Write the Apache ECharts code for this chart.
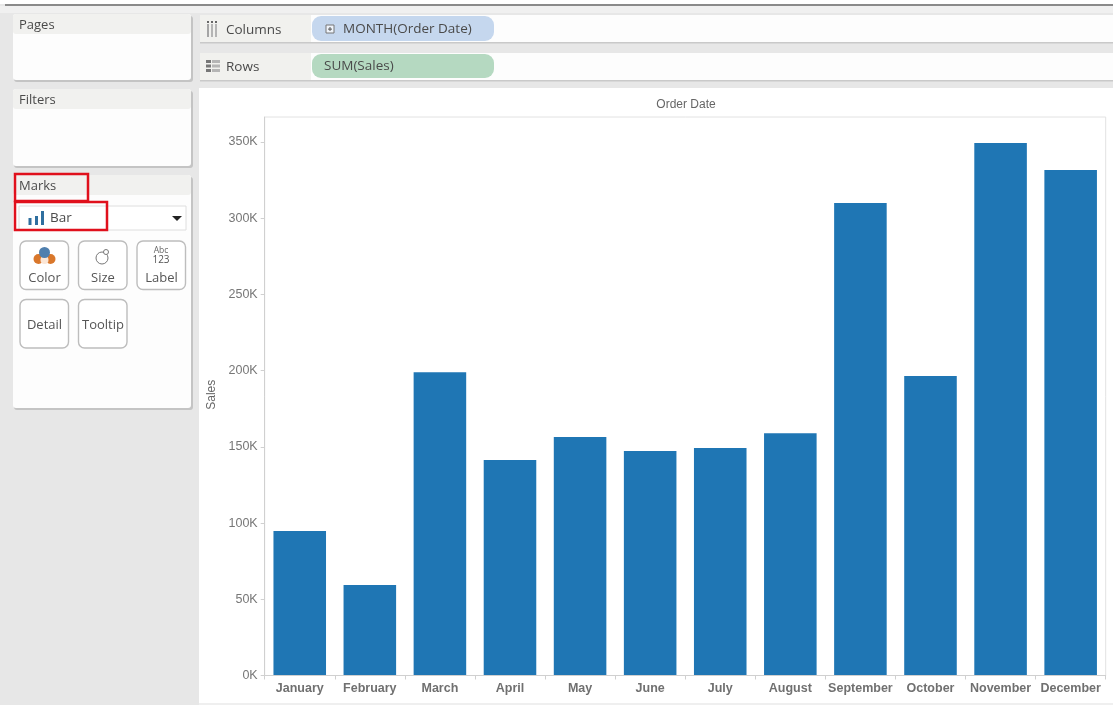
<!DOCTYPE html>
<html><head><meta charset="utf-8">
<style>html,body{margin:0;padding:0;background:#fff}#c{width:1113px;height:705px}</style>
<script src="https://cdn.jsdelivr.net/npm/echarts@6/dist/echarts.min.js"></script>
</head><body><div id="c"></div>
<script>
const months = ['January','February','March','April','May','June','July','August','September','October','November','December'];
const sales = [94800,59400,199000,141400,156500,147300,149300,159000,310000,196500,349300,331600];
const axisMax = 366400;
const axisStep = 50000;
const tickValues = [0,50000,100000,150000,200000,250000,300000,350000];

const F = '"Open Sans","Noto Sans",sans-serif';
const txt = (x,y,s,o={}) => ({type:'text',silent:true,z:o.z??5,style:{x,y,text:s,fill:o.fill||'#4a4a4a',font:(o.weight||'normal')+' '+(o.size||13)+'px '+(o.fam||F),textAlign:o.align||'left',textVerticalAlign:'middle'}});
const rect = (x,y,w,h,fill,o={}) => ({type:'rect',silent:true,z:o.z??2,shape:{x,y,width:w,height:h,r:o.r||0},style:{fill,stroke:o.stroke||null,lineWidth:o.lw||1}});
const circ = (cx,cy,r,fill,o={}) => ({type:'circle',silent:true,z:o.z??4,shape:{cx,cy,r},style:{fill,stroke:o.stroke||null,lineWidth:o.lw||1}});

const panel = (y,h,title) => [
  rect(14,y+2,179,h,'#c4c4c4',{r:3}),
  rect(13,y,178,h,'#fdfdfd',{r:3}),
  rect(13,y,178,20,'#f1f1ef',{r:3}),
  txt(19,y+11.5,title,{size:13})
];
const card = (x,y,label,ly) => [
  rect(x,y,48.5,48.5,'#fff',{r:6,stroke:'#bdbdbd',lw:1.4,z:3}),
  txt(x+24.5,ly,label,{size:13,align:'center',fill:'#555'})
];
const gfx = [
  rect(0,0,1113,705,'#e7e7e7',{z:0}),
  rect(0,0,1113,4,'#ffffff',{z:1}),
  rect(5,4,1108,2,'#8a8a8a',{z:1}),
  rect(0,6,1113,7,'#f0f0f0',{z:1}),
  rect(199,88,914,615,'#ffffff',{z:1}),
  rect(199,703,914,2,'#efefef',{z:1}),
  // shelves
  rect(200,15,111,27,'#f1f1ee'), rect(311,15,802,27,'#fdfdfd'), rect(200,42,913,1.5,'#c9c9c9'),
  rect(200,53,111,27,'#f1f1ee'), rect(311,53,802,27,'#fdfdfd'), rect(200,80,913,1.5,'#c9c9c9'),
  rect(207,24,2,13,'#a5a5a5',{z:4}), rect(211,24,2,13,'#b5b5b5',{z:4}), rect(215,24,2,13,'#b5b5b5',{z:4}),
  rect(207,21,2,2,'#666',{z:4}), rect(211,21,2,2,'#666',{z:4}), rect(215,21,2,2,'#666',{z:4}),
  rect(206,60,5,3,'#777',{z:4}), rect(212,60,8,3,'#b5b5b5',{z:4}),
  rect(206,64.5,5,3,'#777',{z:4}), rect(212,64.5,8,3,'#b5b5b5',{z:4}),
  rect(206,69,5,3,'#777',{z:4}), rect(212,69,8,3,'#b5b5b5',{z:4}),
  txt(226,30,'Columns',{size:13.5}),
  txt(226,67.5,'Rows',{size:13.5}),
  rect(312,16,182,25,'#c5d7ee',{r:9,z:3}),
  rect(312,54,182,24,'#b5d9c1',{r:9,z:3}),
  rect(326,25,8,8,'#eef3fa',{z:4,stroke:'#777'}),
  rect(328,28.6,4,1,'#555',{z:5}), rect(329.5,27,1,4,'#555',{z:5}),
  txt(343,29,'MONTH(Order Date)',{size:13.5}),
  txt(324,66.5,'SUM(Sales)',{size:13.5}),
  ...panel(14,66,'Pages'),
  ...panel(89,77,'Filters'),
  ...panel(175,233,'Marks'),
  // mark type dropdown
  rect(19,206,167,24,'#fff',{stroke:'#dedede',z:3}),
  rect(28.5,218,3,7,'#2f6f9f',{z:4}), rect(35,216,3,9,'#2f6f9f',{z:4}), rect(41,211,3,14,'#2f6f9f',{z:4}),
  txt(50,218,'Bar',{size:13.5}),
  {type:'polygon',silent:true,z:4,shape:{points:[[172,216],[182,216],[177,221]]},style:{fill:'#222'}},
  ...card(20,241,'Color',278),
  ...card(78.5,241,'Size',278),
  ...card(137,241,'Label',278),
  ...card(20,299.5,'Detail',325),
  ...card(78.5,299.5,'Tooltip',325),
  // card icons
  circ(38.5,259,5,'#d9772b'), circ(50.5,259,5,'#d9772b'), circ(44.5,260,4,'#fbe6d6',{z:4}), circ(44.5,252.5,5.5,'#4f7fae',{z:5}),
  circ(102,258,6,'#fff',{stroke:'#777'}), circ(106,252,2.5,'#fff',{stroke:'#777'}),
  txt(161,250.5,'Abc',{size:8.5,align:'center',fill:'#666'}),
  txt(161,260,'123',{size:10,align:'center',fill:'#555'}),
  // red highlights
  rect(15,174,73,27,'none',{stroke:'#e0101c',lw:2.5,z:6}),
  rect(15,202,92,28,'none',{stroke:'#e0101c',lw:2.5,z:6})
];

const chart = echarts.init(document.getElementById('c'),null,{renderer:'canvas'});
chart.setOption({
  animation:false,
  backgroundColor:'#fff',
  graphic:{elements:gfx},
  title:{text:'Order Date',left:681,top:93.5,textAlign:'center',z:8,textStyle:{fontFamily:'Liberation Sans',fontSize:12,fontWeight:'normal',color:'#666'}},
  grid:{left:264.7,right:7.3,top:117,bottom:29.5,show:true,borderColor:'#e2e2e2',borderWidth:1,backgroundColor:'transparent',z:2},
  xAxis:{type:'category',data:months,z:8,
    axisLine:{show:true,lineStyle:{color:'#d0d0d0'}},
    axisTick:{show:true,length:4,lineStyle:{color:'#d0d0d0'}},
    axisLabel:{interval:0,margin:7,fontFamily:'Liberation Sans',fontSize:12.5,fontWeight:'bold',color:'#707070'}},
  yAxis:{type:'value',min:0,max:axisMax,interval:axisStep,name:'Sales',nameLocation:'middle',nameGap:43,z:8,
    nameRotate:90,
    nameTextStyle:{fontFamily:'Liberation Sans',fontSize:12,color:'#666',padding:[0,0,0,3]},
    splitLine:{show:false},
    axisLine:{show:true,lineStyle:{color:'#d0d0d0'}},
    axisTick:{show:true,length:4,customValues:tickValues,lineStyle:{color:'#d0d0d0'}},
    axisLabel:{customValues:tickValues,margin:7,fontFamily:'Liberation Sans',fontSize:12.5,color:'#777',padding:[4,0,0,0],
      formatter:v=>(v/1000)+'K'}},
  series:[{type:'bar',data:sales,barWidth:'75%',itemStyle:{color:'#1f76b4'},z:3}]
});
</script></body></html>
